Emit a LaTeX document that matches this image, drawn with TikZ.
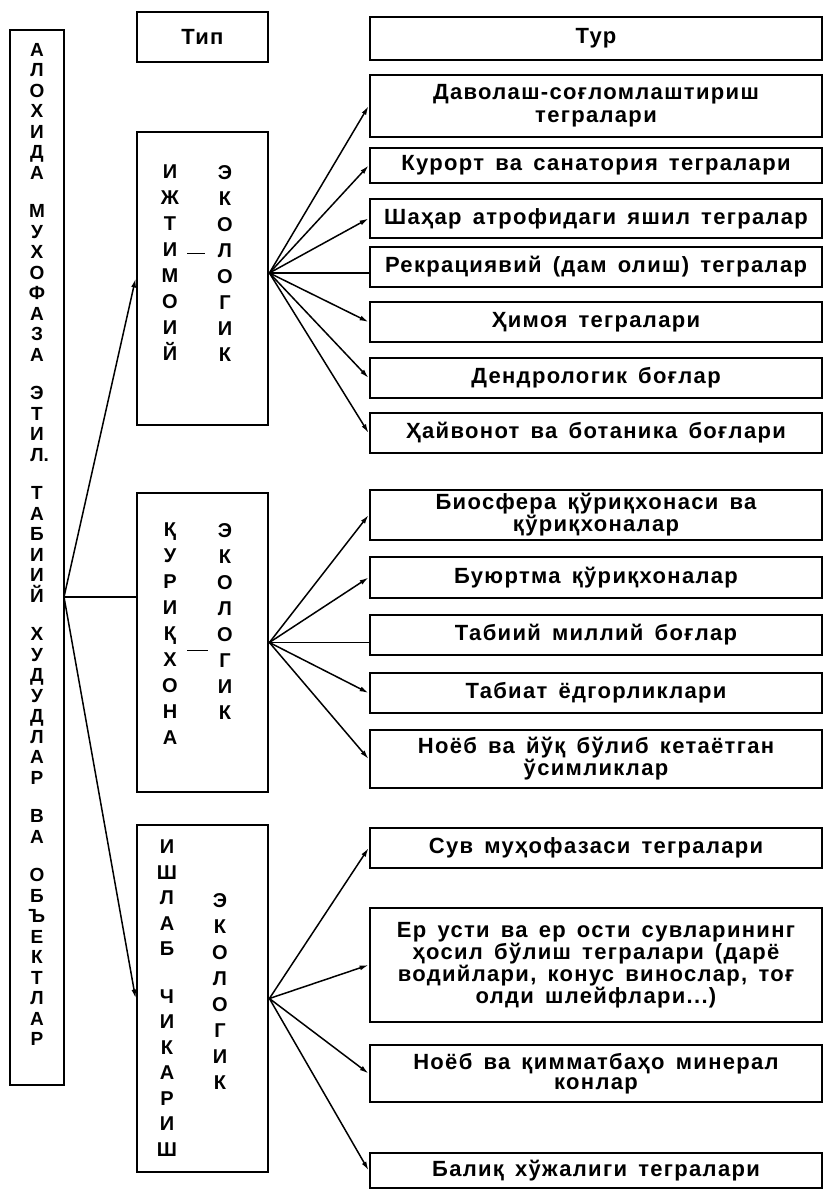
\documentclass[tikz,border=0pt]{standalone}
\usepackage{fontspec}
\setmainfont{Liberation Sans}
\newfontfamily\turfont[LetterSpace=6,WordSpace=1.5]{Liberation Sans}
\usepackage{tikz}
\usetikzlibrary{arrows.meta}
\tikzset{>={Latex[width=5pt,length=9pt]}}
\tikzset{
  box/.style={shape=rectangle,draw,line width=2.8pt,inner sep=0pt},
  turbox/.style={box,minimum width=452pt,align=center,font=\turfont\bfseries\fontsize{22}{22}\selectfont},
  tipbox/.style={box,minimum width=131pt},
  letters/.style={anchor=north,inner sep=0pt,align=center,font=\bfseries\fontsize{20}{26}\selectfont},
  link/.style={line width=1.5pt},
}

\begin{document}
\begin{tikzpicture}[x=1pt,y=-1pt]
\useasboundingbox (0,0) rectangle (825,1191);

% left column
\path (37,557.5) node [box,minimum width=54pt,minimum height=1055pt] (main) {};
\path (37,43) node [letters,font=\bfseries\fontsize{19}{20.5}\selectfont] (maintext) {А\\Л\\О\\Х\\И\\Д\\А\\[18pt]М\\У\\Х\\О\\Ф\\А\\З\\А\\[18pt]Э\\Т\\И\\Л\rlap{.}\\[18pt]Т\\А\\Б\\И\\И\\Й\\[18pt]Х\\У\\Д\\У\\Д\\Л\\А\\Р\\[18pt]В\\А\\[18pt]О\\Б\\Ъ\\Е\\К\\Т\\Л\\А\\Р};

% type column
\path (202.5,37) node [tipbox,minimum height=50pt,font=\turfont\bfseries\fontsize{22}{22}\selectfont] (tip) {Тип};

\path (202.5,278.5) node [tipbox,minimum height=293pt] (ijt) {};
\path (170,165) node [letters] (ijtA) {И\\Ж\\Т\\И\\М\\О\\И\\Й};
\path (225,165) node [letters] (ijtB) {Э\\К\\О\\Л\\О\\Г\\И\\К};
\draw [line width=1pt] (187,253) -- (205,253);

\path (202.5,642.5) node [tipbox,minimum height=299pt] (qur) {};
\path (170,523) node [letters] (qurA) {Қ\\У\\Р\\И\\Қ\\Х\\О\\Н\\А};
\path (225,523) node [letters] (qurB) {Э\\К\\О\\Л\\О\\Г\\И\\К};
\draw [line width=1pt] (187,650) -- (208,650);

\path (202.5,998.5) node [tipbox,minimum height=347pt] (ish) {};
\path (167,840) node [letters,font=\bfseries\fontsize{20}{25.5}\selectfont] (ishA) {И\\Ш\\Л\\А\\Б\\[22pt]Ч\\И\\К\\А\\Р\\И\\Ш};
\path (220,893) node [letters] (ishB) {Э\\К\\О\\Л\\О\\Г\\И\\К};

% tur column
\path (596,38.5) node [turbox,minimum height=43pt] (tur) {Тур};
\path (596,106) node [turbox,minimum height=62pt,font=\turfont\bfseries\fontsize{22}{23}\selectfont] (t1) {Даволаш-соғломлаштириш\\тегралари};
\path (596,165.5) node [turbox,minimum height=35pt] (t2) {Курорт ва санатория тегралари};
\path (596,218.5) node [turbox,minimum height=39pt] (t3) {Шаҳар атрофидаги яшил тегралар};
\path (596,267) node [turbox,minimum height=40pt] (t4) {Рекрациявий (дам олиш) тегралар};
\path (596,322) node [turbox,minimum height=40pt] (t5) {Ҳимоя тегралари};
\path (596,378) node [turbox,minimum height=40pt] (t6) {Дендрологик боғлар};
\path (596,433) node [turbox,minimum height=40pt] (t7) {Ҳайвонот ва ботаника боғлари};

\path (596,515) node [turbox,minimum height=50pt,font=\turfont\bfseries\fontsize{22}{20}\selectfont] (t8) {Биосфера қўриқхонаси ва\\қўриқхоналар};
\path (596,577.5) node [turbox,minimum height=41pt] (t9) {Буюртма қўриқхоналар};
\path (596,635) node [turbox,minimum height=40pt] (t10) {Табиий миллий боғлар};
\path (596,693) node [turbox,minimum height=40pt] (t11) {Табиат ёдгорликлари};
\path (596,759) node [turbox,minimum height=58pt,font=\turfont\bfseries\fontsize{22}{20}\selectfont] (t12) {Ноёб ва йўқ бўлиб кетаётган\\ўсимликлар};

\path (596,848) node [turbox,minimum height=40pt] (t13) {Сув муҳофазаси тегралари};
\path (596,965) node [turbox,minimum height=114pt,font=\turfont\bfseries\fontsize{22}{20.5}\selectfont] (t14) {Ер усти ва ер ости сувларининг\\ҳосил бўлиш тегралари (дарё\\водийлари, конус винослар, тоғ\\олди шлейфлари...)};
\path (596,1073.5) node [turbox,minimum height=57pt,font=\turfont\bfseries\fontsize{22}{20}\selectfont] (t15) {Ноёб ва қимматбаҳо минерал\\конлар};
\path (596,1170.5) node [turbox,minimum height=35pt] (t16) {Балиқ хўжалиги тегралари};

% connectors
\coordinate (hub) at (64,597);
\draw [link,->] (hub) -- (ijt.west);
\draw [link] (hub) -- (hub -| qur.west);
\draw [link,->] (hub) -- (ish.west);

\foreach \t in {t1,t2,t3,t5,t6,t7}
  \draw [link,->] ([yshift=5.5pt]ijt.east) -- (\t.west);
\draw [link] ([yshift=5.5pt]ijt.east) -- ([yshift=5.5pt]ijt.east -| t4.west);

\foreach \t in {t8,t9,t11,t12}
  \draw [link,->] (qur.east) -- (\t.west);
\draw [link] (qur.east) -- (qur.east -| t10.west);

\foreach \t in {t13,t14,t15,t16}
  \draw [link,->] (ish.east) -- (\t.west);

\end{tikzpicture}
\end{document}
